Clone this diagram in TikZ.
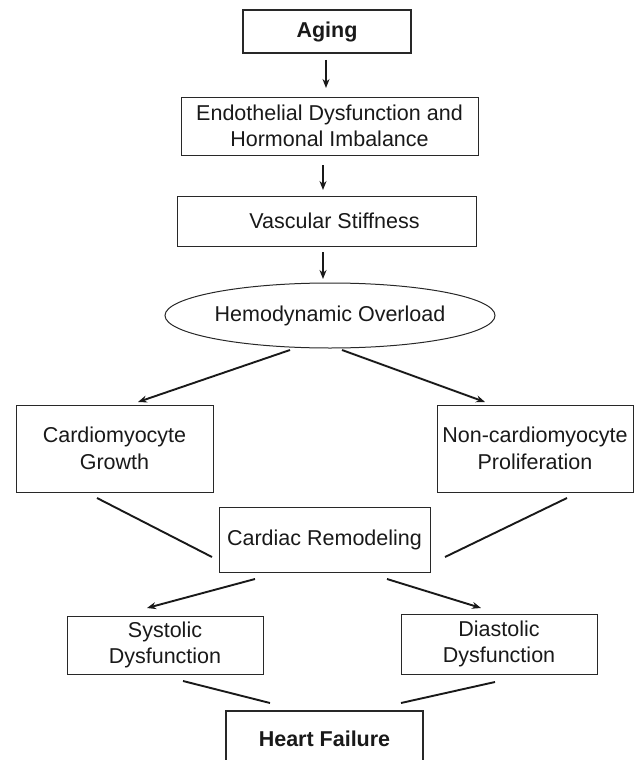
\documentclass[tikz,border=0pt]{standalone}
\usepackage{fontspec}
\setmainfont{Liberation Sans}
\usetikzlibrary{shapes.geometric, arrows.meta, positioning, calc}
\definecolor{edgecolor}{RGB}{40, 40, 40}
\definecolor{textcolor}{RGB}{25, 25, 25}
\newcommand{\boxfont}{\fontsize{21.5pt}{26.5pt}\selectfont}
\tikzstyle{stagebox} = [
    rectangle,
    inner sep=0pt,
    outer sep=0pt,
    align=center,
    draw=edgecolor,
    line width=1pt,
    text=textcolor
]
\tikzstyle{keybox} = [
    stagebox,
    line width=2.2pt,
    font=\boxfont\bfseries
]
\tikzstyle{loadellipse} = [
    ellipse,
    inner sep=0pt,
    outer sep=0pt,
    draw=edgecolor,
    line width=1pt,
    text=textcolor
]
\tikzstyle{arrow} = [
    -{Stealth[length=9pt, width=7pt]},
    line width=1.9pt,
    color=textcolor
]
\tikzstyle{link} = [
    line width=1.9pt,
    color=textcolor
]

\begin{document}
\begin{tikzpicture}[x=1pt, y=-1pt, font=\boxfont]

\useasboundingbox (0, 0) rectangle (642, 760);
\clip (0, 0) rectangle (642, 760);

% Cause
\node[keybox, minimum width=168pt, minimum height=43pt] (aging) at (327, 31.5) {Aging};

\node[stagebox, minimum width=297pt, minimum height=58pt] (endo) at (329.5, 126) {Endothelial Dysfunction and\\Hormonal Imbalance};

\node[stagebox, minimum width=299pt, minimum height=50pt] (stiff) at (326.5, 221) {\hspace*{16pt}Vascular Stiffness};

% Overload
\node[loadellipse, minimum width=330pt, minimum height=65pt] (overload) at (330, 315.5) {Hemodynamic Overload};

% Two branches
\node[stagebox, minimum width=197pt, minimum height=87pt] (growth) at (114.5, 448.5) {Cardiomyocyte\\Growth};
\node[stagebox, minimum width=196pt, minimum height=87pt] (prolif) at (535, 448.5) {Non-cardiomyocyte\\Proliferation};

\node[stagebox, minimum width=211pt, minimum height=65pt] (remodel) at (324.5, 539.5) {Cardiac Remodeling};

% Dysfunction
\node[stagebox, minimum width=196pt, minimum height=58pt] (systolic) at (165, 645) {Systolic\\Dysfunction};
\node[stagebox, minimum width=196pt, minimum height=60pt] (diastolic) at (499, 644) {Diastolic\\Dysfunction};

% Outcome
\node[keybox, minimum width=197pt, minimum height=56pt] (failure) at (324.5, 739) {Heart Failure};

% Vertical arrows
\draw[arrow] ($(aging.south)+(-1, 7)$) -- ($(aging.south |- endo.north)+(-1, -9)$);
\draw[arrow] ($(endo.south)+(-6.5, 10)$) -- ($(endo.south |- stiff.north)+(-6.5, -6)$);
\draw[arrow] ($(stiff.south)+(-3.5, 6)$) -- ($(stiff.south |- overload.north)+(-3.5, -4)$);

% Overload to branches
\draw[arrow] ($(overload.south)+(-40, 2)$) -- ($(growth.north)+(23.5, -3)$);
\draw[arrow] ($(overload.south)+(12, 2)$) -- ($(prolif.north)+(-50, -3)$);

% Branches into remodeling
\draw[link] ($(growth.south)+(-17.5, 6)$) -- ($(remodel.west)+(-7, 17.5)$);
\draw[link] ($(prolif.south)+(32, 6)$) -- ($(remodel.east)+(15, 17.5)$);

% Remodeling to dysfunction
\draw[arrow] ($(remodel.south)+(-69.5, 7)$) -- ($(systolic.north)+(-18, -8)$);
\draw[arrow] ($(remodel.south)+(62.5, 7)$) -- ($(diastolic.north)+(-18, -6)$);

% Dysfunction into failure
\draw[link] ($(systolic.south)+(18, 7)$) -- ($(failure.north)+(-54.5, -8)$);
\draw[link] ($(diastolic.south)+(-4, 8)$) -- ($(failure.north)+(76.5, -8)$);

\end{tikzpicture}
\end{document}
